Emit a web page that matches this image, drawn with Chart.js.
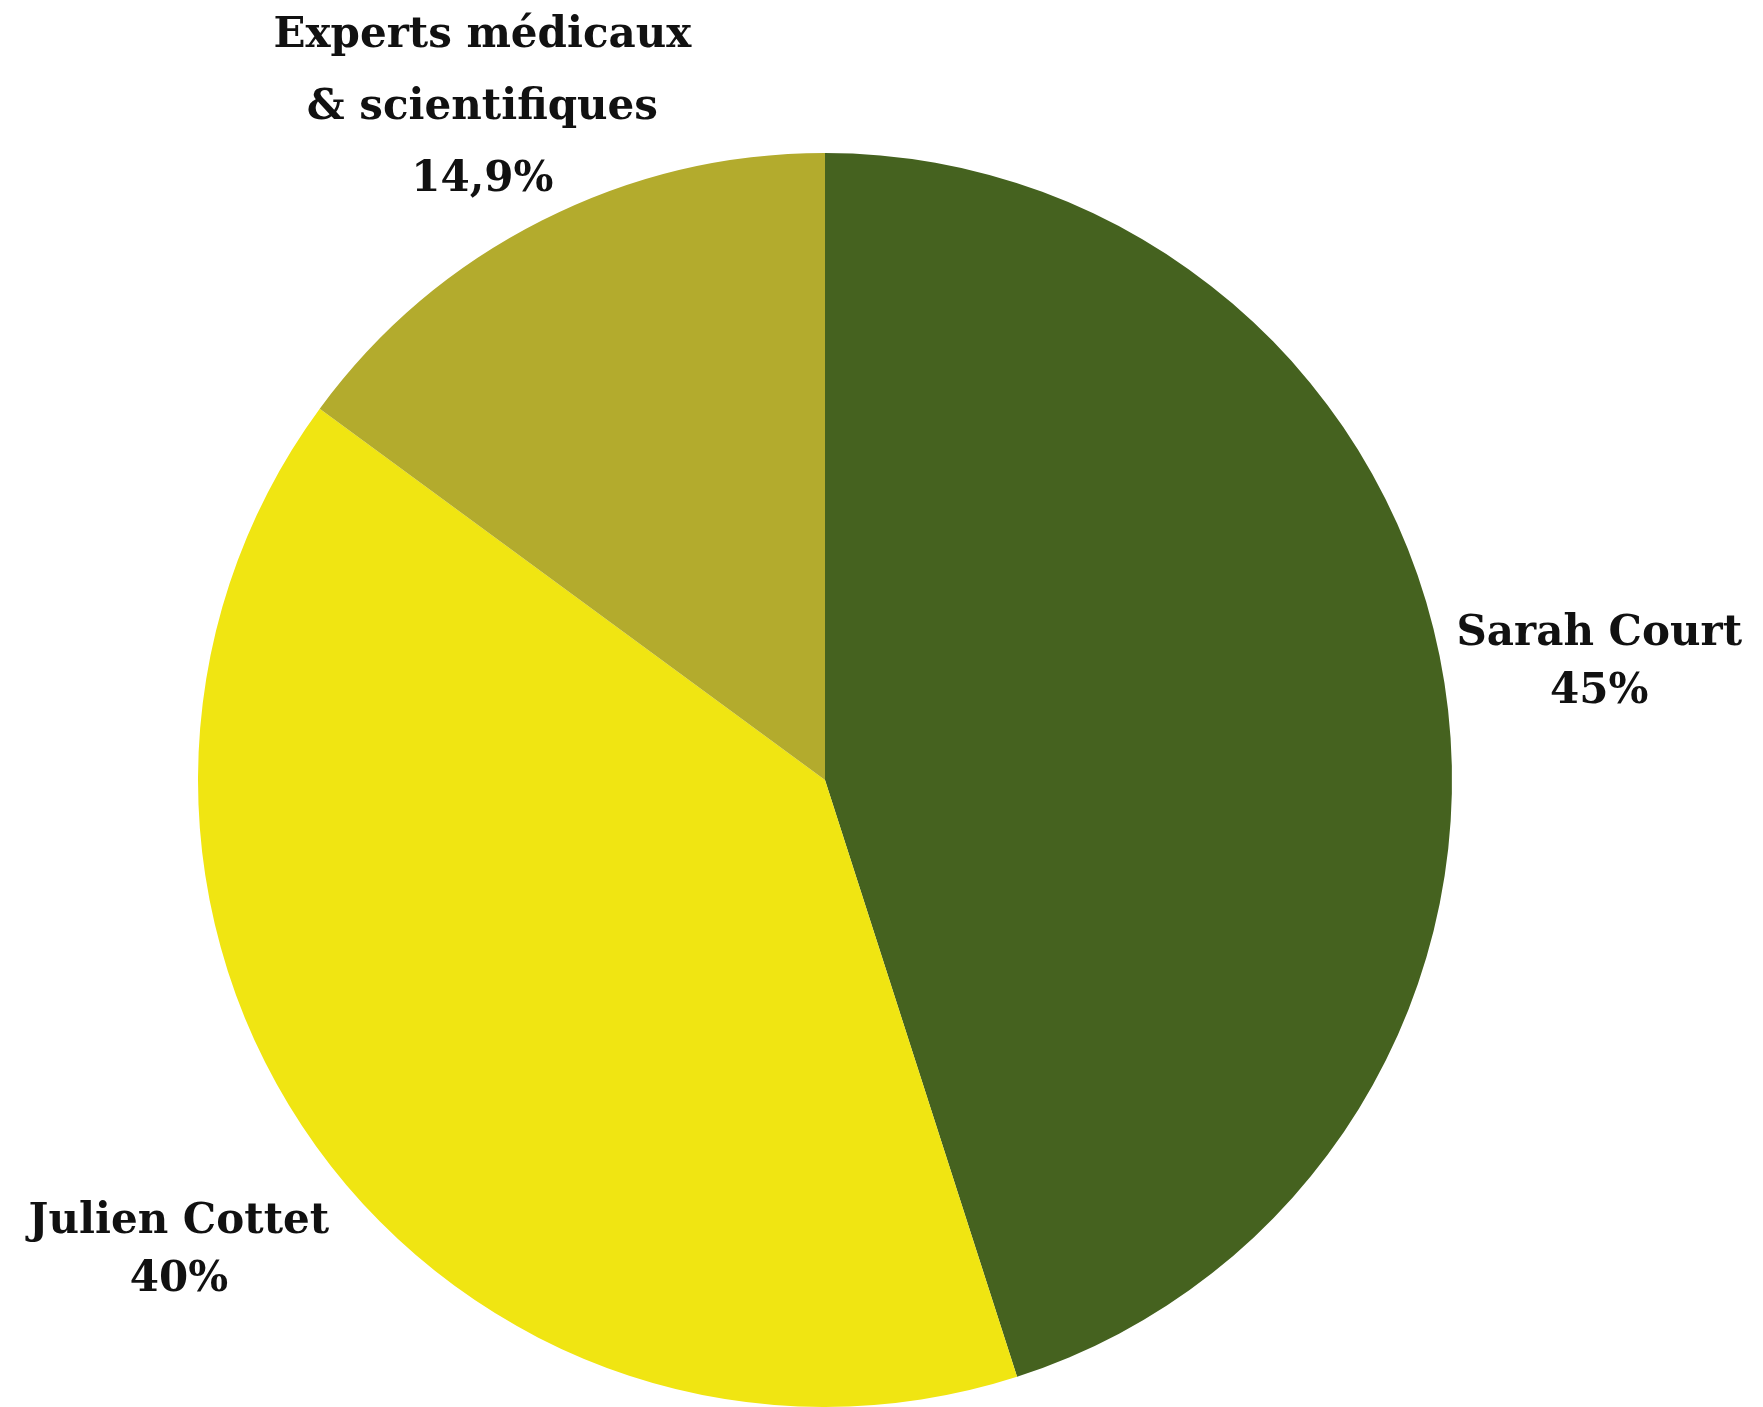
<!DOCTYPE html>
<html lang="fr">
<head>
<meta charset="utf-8">
<script src="https://cdn.jsdelivr.net/npm/chart.js@4"></script>
<style>
  html, body { margin: 0; padding: 0; background: #fff; }
  #wrap { width: 1763px; height: 1407px; position: relative; }
</style>
</head>
<body>
<div id="wrap"><canvas id="pieChart"></canvas></div>
<script>
// données
const labels = [['Sarah Court'], ['Julien Cottet'], ['Experts médicaux', '& scientifiques']];
const values = [45, 40, 14.9];
const valueLabels = ['45%', '40%', '14,9%'];
const colors = ['#45621f', '#f0e512', '#b3ab2d'];

// étiquettes autour du camembert
const labelDist = [1.25, 1.27, 1.21];
const labelShiftY = [5, 6, 5];
const lineHeights = [58, 58, 72];

const outsideLabels = {
  id: 'outsideLabels',
  afterDraw(chart) {
    const c = chart.ctx;
    const meta = chart.getDatasetMeta(0);
    c.save();
    c.fillStyle = '#111';
    c.textAlign = 'center';
    c.textBaseline = 'middle';
    c.font = 'bold 42px "DejaVu Serif", serif';
    meta.data.forEach((arc, i) => {
      const mid = (arc.startAngle + arc.endAngle) / 2;
      const r = arc.outerRadius * labelDist[i];
      const cx = arc.x + Math.cos(mid) * r;
      const cy = arc.y + Math.sin(mid) * r + labelShiftY[i];
      const lines = labels[i].concat([valueLabels[i]]);
      const lh = lineHeights[i];
      const y0 = cy - (lines.length - 1) * lh / 2;
      lines.forEach((t, k) => c.fillText(t, cx, y0 + k * lh));
    });
    c.restore();
  }
};

const ctx = document.getElementById('pieChart').getContext('2d');
new Chart(ctx, {
  type: 'pie',
  data: {
    labels: labels.map(l => l.join(' ')),
    datasets: [{ data: values, backgroundColor: colors, borderWidth: 0 }]
  },
  options: {
    responsive: true,
    maintainAspectRatio: false,
    animation: false,
    layout: { padding: { left: 198, right: 311, top: 153, bottom: 0 } },
    plugins: { legend: { display: false }, tooltip: { enabled: false } }
  },
  plugins: [outsideLabels]
});
</script>
</body>
</html>
